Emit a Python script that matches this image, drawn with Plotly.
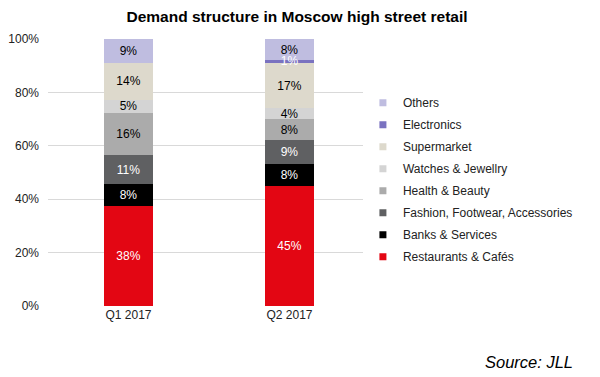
import plotly.graph_objects as go

periods = ["Q1 2017", "Q2 2017"]
categories = ["Restaurants & Cafés", "Banks & Services", "Fashion, Footwear, Accessories",
              "Health & Beauty", "Watches & Jewellry", "Supermarket", "Electronics", "Others"]
q1 = [38, 8, 11, 16, 5, 14, 0, 9]
q2 = [45, 8, 9, 8, 4, 17, 1, 8]
y_ticks = [0, 20, 40, 60, 80, 100]
y_tick_labels = ["0%", "20%", "40%", "60%", "80%", "100%"]
colors = ["#E30613", "#000000", "#5F6062", "#ABABAB", "#D4D4D4", "#DDD9CC", "#7A72C0", "#BFBDE0"]
text_colors = ["white", "white", "white", "black", "black", "black", "white", "black"]
# segments whose label sits on top of the stack (too thin to hold text)
overlay_label = ["Electronics"]

FONT = "Liberation Sans, Arial"
fig = go.Figure()
columns = [q1, q2]
totals = [sum(c) for c in columns]
for i, cat in enumerate(categories):
    vals = [q1[i], q2[i]]
    inside = cat not in overlay_label
    fig.add_trace(go.Bar(
        x=periods, y=vals, name=cat,
        marker=dict(color=colors[i], line=dict(width=0)),
        text=[f"{v}%" if (v > 0 and inside) else "" for v in vals],
        textposition="inside", insidetextanchor="middle",
        textfont=dict(color=text_colors[i], size=12, family=FONT),
        textangle=0, constraintext="none",
        showlegend=False, hoverinfo="skip",
    ))
    fig.add_trace(go.Scatter(
        x=[None], y=[None], mode="markers", name=cat,
        marker=dict(symbol="square", size=7, color=colors[i]),
        legendgroup=cat, legendrank=100 - i, showlegend=True,
    ))

# labels of thin segments drawn above all bars, at the segment midpoints
for cat in overlay_label:
    i = categories.index(cat)
    xs, ys, ts = [], [], []
    for j, col in enumerate(columns):
        if col[i] > 0:
            mid = (sum(col[:i]) + col[i] / 2) / totals[j] * 100
            xs.append(periods[j]); ys.append(mid); ts.append(f"{col[i]}%")
    fig.add_trace(go.Scatter(
        x=xs, y=ys, text=ts, mode="text", showlegend=False, hoverinfo="skip",
        textfont=dict(color=text_colors[i], size=12, family=FONT),
    ))

fig.update_layout(
    width=600, height=377,
    barmode="stack", barnorm="percent", bargap=0.7,
    uniformtext=dict(minsize=8, mode="show"),
    margin=dict(l=48, r=230, t=39, b=71, autoexpand=False),
    paper_bgcolor="white", plot_bgcolor="white",
    font=dict(family=FONT, size=12, color="#222"),
    title=dict(text="<b>Demand structure in Moscow high street retail</b>",
               x=0.495, xanchor="center", y=0.955, yanchor="middle",
               font=dict(size=15.5, color="black")),
    legend=dict(x=0.978, xanchor="left", y=0.816, yanchor="top",
                traceorder="grouped", tracegroupgap=3,
                font=dict(size=12, color="#222"), itemwidth=30),
    showlegend=True,
)
fig.update_yaxes(range=[0, 100], tickmode="array", tickvals=y_ticks, ticktext=y_tick_labels,
                 showgrid=True, gridcolor="#D9D9D9", gridwidth=1, zeroline=False,
                 ticks="", ticklabelstandoff=8, tickfont=dict(size=12), automargin=False)
fig.update_xaxes(showgrid=False, showline=False, ticks="", tickfont=dict(size=12),
                 automargin=False)
fig.add_annotation(text="<i>Source: JLL</i>", xref="paper", yref="paper",
                   x=(575 - 48) / (600 - 48 - 230), xanchor="right",
                   y=-(362 - 306) / (306 - 39), yanchor="middle",
                   showarrow=False, font=dict(size=16.5, color="black"))
fig.write_html("out.html", config={"displayModeBar": False},
               post_script="document.body.style.margin='0';")
